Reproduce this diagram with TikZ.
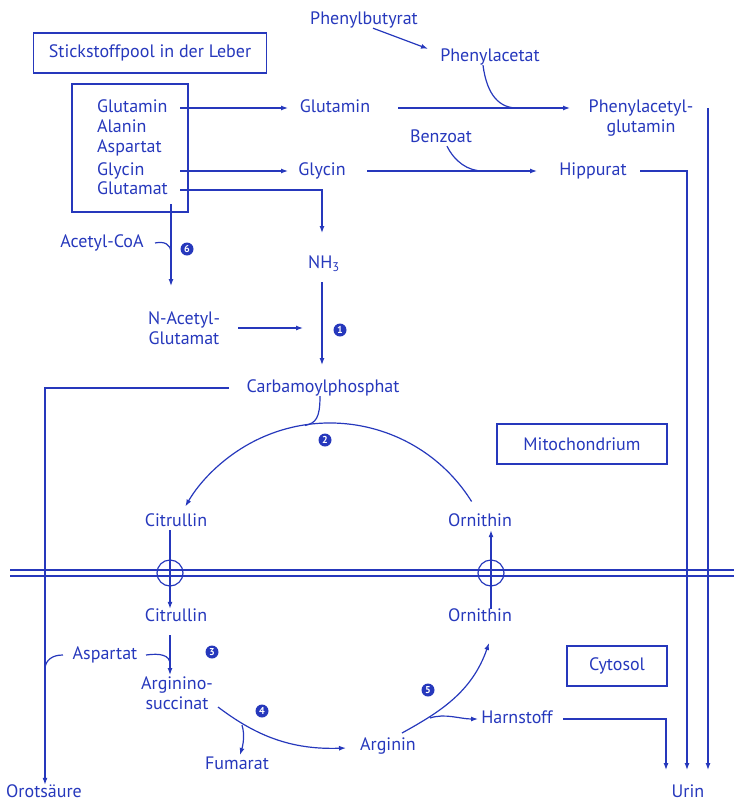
\documentclass[tikz,border=0pt]{standalone}
\usepackage{fontspec}
\setmainfont{PT Sans}
\usetikzlibrary{arrows.meta}
\definecolor{ink}{RGB}{38,56,188}
\begin{document}
\begin{tikzpicture}[x=1pt,y=-1pt,
  lbl/.style={text=ink,font=\fontsize{18}{20.5}\selectfont,inner sep=0pt,text height=12.5pt,text depth=3.5pt},
  lbl2/.style={text=ink,font=\fontsize{18}{20.5}\selectfont,inner sep=0pt,align=center},
  line/.style={draw=ink,line width=1.2pt},
  arr/.style={line,-{Latex[length=7pt,width=5pt]}},
  frame/.style={draw=ink,line width=1.2pt,text=ink,font=\fontsize{18}{20}\selectfont,inner sep=0pt},
  num/.style={circle,fill=ink,text=white,inner sep=0pt,minimum size=13pt,font=\fontsize{10}{10}\selectfont\bfseries}]
\useasboundingbox (0,0) rectangle (734,804);
% boxes
\node[frame,minimum width=233pt,minimum height=40pt] (sp) at (150,53) {Stickstoffpool in der Leber};
\node[frame,minimum width=116pt,minimum height=128pt] (pool) at (130,148) {};
\node[frame,minimum width=170pt,minimum height=40pt] (mito) at (582,444) {Mitochondrium};
\node[frame,minimum width=100pt,minimum height=40pt] (cyto) at (617,666) {Cytosol};
% pool items
\node[lbl,anchor=west] (pGln) at (97,108) {Glutamin};
\node[lbl,anchor=west] (pAla) at (97,128) {Alanin};
\node[lbl,anchor=west] (pAsp) at (97,148) {Aspartat};
\node[lbl,anchor=west] (pGly) at (97,171) {Glycin};
\node[lbl,anchor=west] (pGlu) at (97,190) {Glutamat};
% other labels
\node[lbl] (pb) at (364,20) {Phenylbutyrat};
\node[lbl] (pa) at (490,57) {Phenylacetat};
\node[lbl] (gln) at (335,108) {Glutamin};
\node[lbl2] (pag) at (641,118) {Phenylacetyl-\\glutamin};
\node[lbl] (bz) at (441,138) {Benzoat};
\node[lbl] (gly) at (322,171) {Glycin};
\node[lbl] (hip) at (593,171) {Hippurat};
\node[lbl] (acoa) at (102,243) {Acetyl-CoA};
\node[lbl] (nh3) at (324,264) {NH\textsubscript{3}};
\node[lbl2] (nag) at (184,328) {N-Acetyl-\\Glutamat};
\node[lbl] (carb) at (323,388) {Carbamoylphosphat};
\node[lbl] (cit1) at (176,522) {Citrullin};
\node[lbl] (orn1) at (480,522) {Ornithin};
\node[lbl] (cit2) at (176,617) {Citrullin};
\node[lbl] (orn2) at (480,617) {Ornithin};
\node[lbl] (asp) at (105,655) {Aspartat};
\node[lbl2] (as) at (177,693) {Arginino-\\succinat};
\node[lbl] (fum) at (237,765) {Fumarat};
\node[lbl] (arg) at (388,746) {Arginin};
\node[lbl] (harn) at (517,719) {Harnstoff};
\node[lbl] (oro) at (44,793) {Orotsäure};
\node[lbl] (urin) at (688,793) {Urin};
% numbers
\node[num] (n1) at (340,330) {1};
\node[num] (n2) at (325,440) {2};
\node[num] (n3) at (212,652) {3};
\node[num] (n4) at (262,711) {4};
\node[num] (n5) at (428,690) {5};
\node[num] (n6) at (187,249) {6};
% membrane
\draw[line] (10,570) -- (734,570);
\draw[line] (10,576) -- (734,576);
\draw[line] (170,573) circle[radius=13];
\draw[line] (491,573) circle[radius=13];
% top connectors
\draw[arr] (pb.south -| 373,0) -- (pa.north west -| 428,0);
\draw[arr] (pGln.east -| 180,0) -- (gln.west -| 288,0);
\draw[arr] (pGly.east -| 180,0) -- (gly.west -| 288,0);
\draw[arr] (gln.east -| 398,0) -- (gln.east -| 570,0);
\draw[line] (pa.south -| 483,0) .. controls (487,96) and (500,108) .. (517,108);
\draw[arr] (gly.east -| 367,0) -- (hip.west -| 537,0);
\draw[line] (bz.south -| 447,0) .. controls (455,162) and (468,171) .. (483,171);
\draw[arr] (gln.east -| 708,0) -- (708,770);
\draw[arr] (hip.east -| 640,0) -| (687,770);
\draw[arr] (pGlu.east -| 180,0) -| (322,233);
% pool to N-acetylglutamate
\draw[arr] (171,204) -- (171,286);
\draw[line] (acoa.east -| 155,0) .. controls (164,241) and (171,244) .. (171,253);
\draw[arr] (nag.east -| 238,0) -- (nag.east -| 303,0);
\draw[arr] (nh3.south -| 322,0) ++(0,10) -- (322,365);
% orotic acid
\draw[arr] (carb.west -| 229,0) -| (oro.north -| 45,0);
\draw[line] (asp.west -| 63,0) .. controls (52,655) and (46,660) .. (45,668);
% cycle arc
\draw[arr] (471.6,501.5) arc[start angle=-32,end angle=-150,radius=167];
\draw[line] (carb.south -| 320,0) .. controls (320,418) and (316,423) .. (305,425.5);
% membrane crossings
\draw[arr] (cit1.south -| 170,0) -- (cit2.north -| 170,0);
\draw[arr] (orn2.north -| 491,0) -- (orn1.south -| 491,0);
% cytosol
\draw[arr] (170,635) -- (170,675);
\draw[line] (asp.east -| 146,0) .. controls (160,653) and (170,655) .. (170,664);
\draw[arr] (218,707) .. controls (255,735) and (290,750) .. (346,748);
\draw[arr] (242,725) .. controls (245,735) and (243,745) .. (240,755);
\draw[arr] (402,733) .. controls (440,712) and (472,692) .. (489,643);
\draw[arr] (430,718) .. controls (445,713) and (460,719) .. (478,719);
\draw[arr] (harn.east -| 563,0) -| (666,770);
\end{tikzpicture}
\end{document}
